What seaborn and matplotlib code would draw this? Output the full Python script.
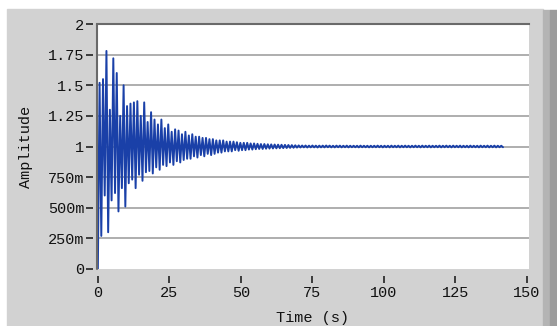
import numpy as np
import pandas as pd
import seaborn as sns
import matplotlib.pyplot as plt
from matplotlib.patches import Rectangle
from matplotlib.lines import Line2D

amplitude = [
    0.00, 1.52, 0.27, 1.55, 0.60, 1.78, 0.30, 1.30, 0.56, 1.72,
    0.62, 1.60, 0.47, 1.25, 0.66, 1.50, 0.51, 1.33, 0.70, 1.35,
    0.73, 1.36, 0.66, 1.37, 0.77, 1.25, 0.72, 1.36, 0.79, 1.20,
    0.80, 1.28, 0.78, 1.22, 0.83, 1.18, 0.81, 1.22, 0.85, 1.15,
    0.84, 1.18, 0.87, 1.12, 0.85, 1.14, 0.88, 1.13, 0.87, 1.10,
    0.89, 1.12, 0.90, 1.09, 0.90, 1.10, 0.92, 1.08, 0.91, 1.08,
    0.93, 1.07, 0.92, 1.07, 0.94, 1.06, 0.93, 1.06, 0.94, 1.05,
    0.95, 1.05, 0.95, 1.05, 0.96, 1.04, 0.96, 1.04, 0.96, 1.04,
    0.97, 1.035, 0.965, 1.03, 0.97, 1.03, 0.97, 1.03, 0.975, 1.025,
    0.975, 1.025, 0.978, 1.022, 0.98, 1.02, 0.98, 1.02, 0.982, 1.018,
    0.983, 1.017, 0.984, 1.016, 0.985, 1.015, 0.986, 1.014, 0.987, 1.013,
    0.988, 1.012, 0.989, 1.011, 0.99, 1.01, 0.991, 1.009, 0.992, 1.008,
    0.993, 1.008, 0.992, 1.007, 0.993, 1.008, 0.993, 1.007, 0.992, 1.007,
    0.993, 1.007, 0.993, 1.008, 0.994, 1.007, 0.993, 1.006, 0.993, 1.007,
    0.994, 1.007, 0.993, 1.006, 0.994, 1.007, 0.993, 1.006, 0.994, 1.006,
    0.994, 1.006, 0.993, 1.007, 0.994, 1.006, 0.994, 1.006, 0.993, 1.006,
    0.994, 1.006, 0.994, 1.007, 0.994, 1.006, 0.993, 1.006, 0.994, 1.006,
    0.993, 1.007, 0.994, 1.006, 0.994, 1.007, 0.993, 1.006, 0.994, 1.007,
    0.994, 1.006, 0.993, 1.006, 0.994, 1.007, 0.994, 1.006, 0.993, 1.007,
    0.994, 1.006, 0.994, 1.007, 0.993, 1.006, 0.994, 1.006, 0.994, 1.007,
    0.993, 1.006, 0.994, 1.007, 0.994, 1.006, 0.993, 1.007, 0.994, 1.006,
    0.994, 1.007, 0.993, 1.006, 0.994, 1.006, 0.993, 1.007, 0.994, 1.006,
    0.994, 1.006, 0.993, 1.007, 0.994, 1.006, 0.994, 1.007, 0.993, 1.006,
    0.994, 1.007, 0.993, 1.006, 0.994, 1.006, 0.994,
]
sample_step = 0.6
time_s = np.round(np.arange(len(amplitude)) * sample_step, 1)

x_ticks = [0, 25, 50, 75, 100, 125, 150]
y_ticks = [0, 0.25, 0.5, 0.75, 1, 1.25, 1.5, 1.75, 2]
y_tick_labels = ['0', '250m', '500m', '750m', '1', '1.25', '1.5', '1.75', '2']

df = pd.DataFrame({'Time (s)': time_s, 'Amplitude': amplitude})

sns.set_style('white')
plt.rcParams['font.family'] = ['Liberation Mono', 'DejaVu Sans Mono']

W, H = 557, 326
fig = plt.figure(figsize=(W / 100, H / 100), dpi=100, facecolor='white')

# grey panel and darker strip on the right, like the LabVIEW front panel
fig.patches.append(Rectangle((7 / W, 0), (543 - 7) / W, (H - 9) / H,
                             transform=fig.transFigure, color='#d2d2d2', zorder=-2))
fig.patches.append(Rectangle((543 / W, 0), 7 / W, (H - 10) / H,
                             transform=fig.transFigure, color='#b4b4b4', zorder=-1))
fig.patches.append(Rectangle((550 / W, 0), 7 / W, (H - 10) / H,
                             transform=fig.transFigure, color='#9c9c9c', zorder=-1))

ax = fig.add_axes([97 / W, (H - 269) / H, (529 - 97) / W, (269 - 24) / H])
ax.set_facecolor('white')

sns.lineplot(data=df, x='Time (s)', y='Amplitude', ax=ax,
             color='#1a40a8', linewidth=1.4, estimator=None, sort=False)

ax.set_xlim(-0.3, 150.7)
ax.set_ylim(0, 2)
ax.set_xticks(x_ticks)
ax.set_xticklabels([str(v) for v in x_ticks])
ax.set_yticks(y_ticks)
ax.set_yticklabels(y_tick_labels)

for v in y_ticks[1:-1]:
    ax.axhline(v, color='#a8a8a8', linewidth=1.3, zorder=0)

for side in ['bottom', 'right', 'left']:
    ax.spines[side].set_visible(False)
ax.spines['left'].set_position(('outward', 3))
ax.spines['bottom'].set_position(('outward', 5))
ax.spines['top'].set_color('#6a6a6a')
ax.spines['top'].set_linewidth(1.5)
ax.add_line(Line2D([0, 0], [0, 1], transform=ax.transAxes,
                   color='#6a6a6a', linewidth=1.5, clip_on=False))

ax.tick_params(axis='y', direction='out', length=5, width=1.2, color='#222222',
               pad=1, labelsize=11, labelcolor='#111111', left=True)
ax.tick_params(axis='x', direction='out', length=5, width=1.2, color='#222222',
               pad=2, labelsize=11, labelcolor='#111111', bottom=True)

ax.set_xlabel('Time (s)', fontsize=11, color='#111111')
ax.set_ylabel('Amplitude', fontsize=11, color='#111111')
ax.xaxis.set_label_coords(0.5, -0.17)
ax.yaxis.set_label_coords(-0.148, 0.5)

fig.savefig('out.png', dpi=100, facecolor=fig.get_facecolor())
plt.close()
